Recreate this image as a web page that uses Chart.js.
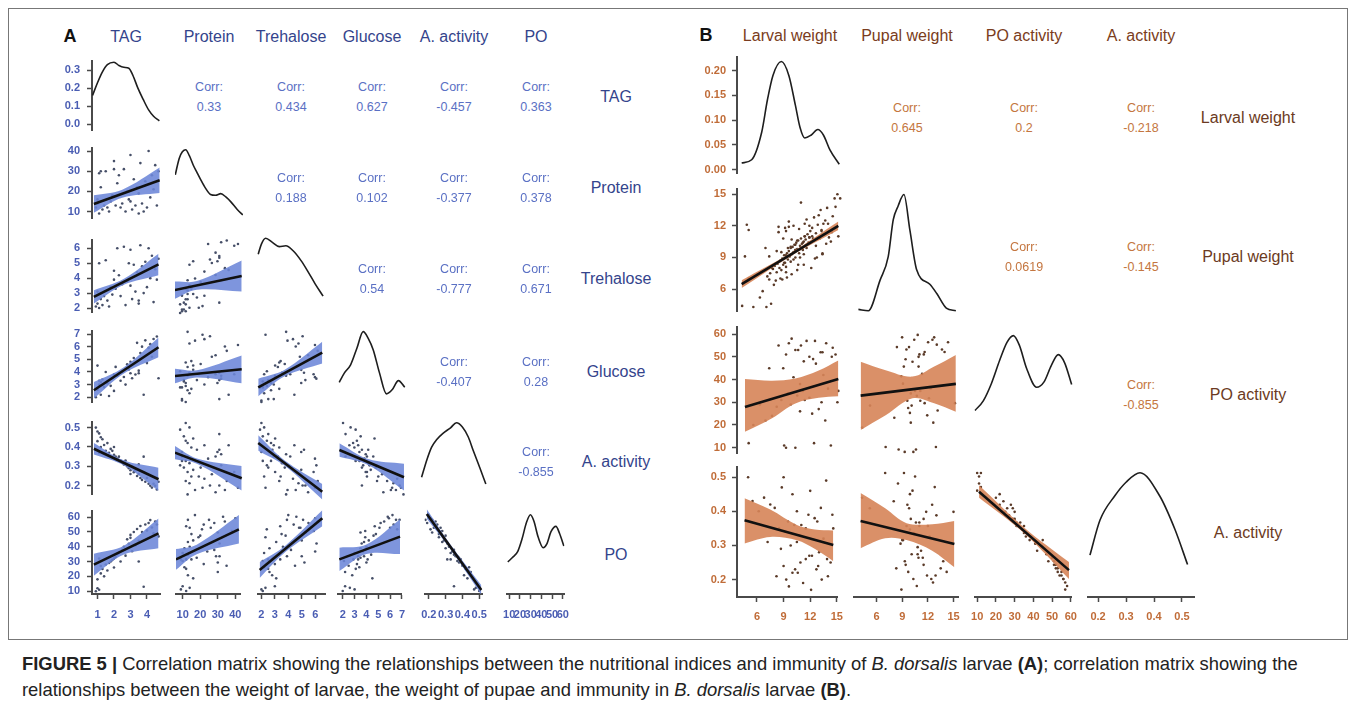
<!DOCTYPE html>
<html>
<head>
<meta charset="utf-8">
<script src="https://cdn.jsdelivr.net/npm/chart.js@4.4.0/dist/chart.umd.min.js"></script>
<style>
body{margin:0;background:#fff;width:1355px;height:710px;position:relative;overflow:hidden;font-family:Arial,"Liberation Sans",sans-serif}
canvas{position:absolute}
.frame{position:absolute;left:8px;top:8px;width:1338px;height:630px;border:1px solid #777}
.t{position:absolute;transform:translate(-50%,-50%);white-space:nowrap}
.caption{position:absolute;left:22px;top:651px;width:1320px;font-size:18.4px;line-height:26px;color:#222;white-space:nowrap}
</style>
</head>
<body>
<div class="frame"></div>
<div class="caption"><b>FIGURE 5 |</b> Correlation matrix showing the relationships between the nutritional indices and immunity of <i>B. dorsalis</i> larvae <b>(A)</b>; correlation matrix showing the<br>relationships between the weight of larvae, the weight of pupae and immunity in <i>B. dorsalis</i> larvae <b>(B)</b>.</div>
<script>
'use strict';

// ---------- panel A : nutritional indices and immunity (one value per larva) ----------
let aNames=['TAG','Protein','Trehalose','Glucose','A. activity','PO']
let aTag=[0.9,1.0,1.1,1.2,1.0,1.3,1.4,1.5,1.6,1.2,1.8,1.7,2.0,1.9,2.1,2.2,2.4,2.3,2.5,2.6,2.7,2.8,2.9,3.0,3.1,3.2,3.0,3.3,3.4,3.5,3.6,3.7,3.5,3.9,4.0,4.1,4.2,4.3,4.4,4.5,4.6,4.7,1.1,2.0,3.8]
let aProtein=[12,14,9,30,16,11,13,30,12,22,15,10,31,18,13,24,12,28,14,31,10,20,16,38,11,26,15,13,22,9,34,14,19,25,12,40,17,28,21,33,13,30,29,35,10]
let aTrehalose=[2.1,2.3,2.0,2.6,3.1,2.2,2.8,5.2,2.5,3.0,3.4,2.1,3.9,2.9,3.3,6.0,2.8,4.2,3.6,6.1,2.2,3.8,5.0,5.9,2.6,4.9,3.5,3.1,4.4,2.5,6.2,4.8,2.3,5.1,3.4,6.0,4.0,5.5,2.4,4.6,3.9,5.3,5.0,4.5,3.0]
let aGlucose=[2.0,2.6,3.0,2.2,4.5,3.4,2.8,4.0,3.1,3.2,2.9,2.1,3.8,3.5,4.4,3.7,3.3,3.9,4.0,3.6,3.0,4.6,4.2,3.9,3.5,5.1,4.8,3.8,6.3,4.1,5.5,6.0,3.9,6.5,4.7,5.9,6.2,5.2,6.6,5.8,6.8,3.5,3.3,2.5,2.2]
let aActivity=[0.50,0.48,0.47,0.45,0.43,0.44,0.41,0.38,0.42,0.40,0.39,0.37,0.36,0.38,0.35,0.34,0.33,0.35,0.32,0.31,0.33,0.30,0.29,0.28,0.30,0.27,0.26,0.28,0.25,0.31,0.24,0.23,0.26,0.22,0.24,0.21,0.20,0.19,0.21,0.20,0.18,0.22,0.37,0.40,0.35]
let aPO=[10,12,11,22,18,25,20,28,24,27,30,29,32,31,33,35,30,36,38,40,34,45,42,48,37,50,46,41,52,30,54,50,44,55,51,56,58,53,49,57,55,47,32,26,13]

// correlations shown in the upper triangle, row by row
let aCorr=[['0.33','0.434','0.627','-0.457','0.363'],['0.188','0.102','-0.377','0.378'],['0.54','-0.777','0.671'],['-0.407','0.28'],['-0.855']]

// axis limits and ticks
let aXLim=[[0.667,4.79],[6.25,42.7],[1.78,6.73],[1.6,7.0],[0.175,0.52],[7.6,61.6]]
let aYLim=[[-0.033,0.352],[6.57,41.7],[1.71,6.58],[1.59,7.27],[0.155,0.531],[8.1,64.4]]
let aXTicks=[[1,2,3,4],[10,20,30,40],[2,3,4,5,6],[2,3,4,5,6,7],[0.2,0.3,0.4,0.5],[10,20,30,40,50,60]]
let aXLabels=[['1','2','3','4'],['10','20','30','40'],['2','3','4','5','6'],['2','3','4','5','6','7'],['0.2','0.3','0.4','0.5'],['10','20','30','40','50','60']]
let aYTicks=[[0,0.1,0.2,0.3],[10,20,30,40],[2,3,4,5,6],[2,3,4,5,6,7],[0.2,0.3,0.4,0.5],[10,20,30,40,50,60]]
let aYLabels=[['0.0','0.1','0.2','0.3'],['10','20','30','40'],['2','3','4','5','6'],['2','3','4','5','6','7'],['0.2','0.3','0.4','0.5'],['10','20','30','40','50','60']]

// density curves on the diagonal (first one in density units, others relative height)
let aDens=[
  [[0.7,0.16],[1.0,0.23],[1.3,0.29],[1.6,0.33],[2.0,0.343],[2.3,0.325],[2.6,0.315],[2.9,0.31],[3.15,0.27],[3.45,0.2],[3.77,0.138],[4.1,0.08],[4.4,0.045],[4.75,0.02]],
  [[6.4,0.6],[8.5,0.8],[10.2,0.88],[12.0,0.906],[14,0.83],[16,0.72],[18,0.63],[19.8,0.55],[22.5,0.44],[25.3,0.36],[28,0.35],[30.8,0.37],[33.5,0.33],[36.2,0.27],[39.5,0.18],[42.6,0.11]],
  [[1.87,0.76],[2.1,0.88],[2.41,0.95],[2.9,0.9],[3.4,0.85],[3.88,0.86],[4.41,0.8],[5.0,0.68],[5.5,0.55],[6.0,0.41],[6.59,0.26]],
  [[1.7,0.31],[2.1,0.42],[2.6,0.52],[3.1,0.72],[3.6,0.92],[4.0,0.84],[4.4,0.7],[4.9,0.42],[5.45,0.17],[5.9,0.22],[6.4,0.33],[6.9,0.25]],
  [[0.183,0.27],[0.21,0.48],[0.234,0.63],[0.26,0.72],[0.29,0.79],[0.33,0.86],[0.36,0.92],[0.39,0.87],[0.42,0.75],[0.445,0.59],[0.479,0.38],[0.509,0.19]],
  [[8.7,0.36],[13,0.41],[18,0.48],[22,0.62],[26,0.8],[29.8,0.89],[33,0.82],[37,0.64],[41.7,0.52],[45,0.56],[49,0.7],[53.6,0.76],[57,0.68],[61,0.54]]
]

// fitted lines and confidence bands [x, low, high] in the lower triangle
let aFits=[
  {r:1,c:0,line:[[0.78,13.7],[4.77,25.5]],band:[[0.78,9.4,18.0],[2.5,16.8,20.8],[4.77,19.2,31.8]]},
  {r:2,c:0,line:[[0.78,2.75],[4.7,4.92]],band:[[0.78,2.31,3.19],[2.6,3.56,3.96],[4.7,4.2,5.64]]},
  {r:2,c:1,line:[[6.2,3.33],[42,4.14]],band:[[6.2,2.83,3.83],[18,3.35,3.85],[42,3.24,5.04]]},
  {r:3,c:0,line:[[0.78,2.55],[4.7,5.95]],band:[[0.78,1.9,3.2],[2.6,3.88,4.38],[4.7,5.17,6.73]]},
  {r:3,c:1,line:[[6.2,3.78],[42,4.24]],band:[[6.2,3.28,4.28],[18,3.68,4.18],[42,3.29,5.19]]},
  {r:3,c:2,line:[[1.87,3.0],[6.53,5.38]],band:[[1.87,2.4,3.6],[3.8,3.77,4.21],[6.53,4.64,6.12]]},
  {r:4,c:0,line:[[0.78,0.391],[4.7,0.233]],band:[[0.78,0.361,0.421],[2.6,0.305,0.331],[4.7,0.173,0.293]]},
  {r:4,c:1,line:[[6.2,0.367],[42,0.252]],band:[[6.2,0.337,0.397],[18,0.317,0.341],[42,0.197,0.307]]},
  {r:4,c:2,line:[[1.87,0.41],[6.53,0.192]],band:[[1.87,0.375,0.445],[3.8,0.308,0.332],[6.53,0.157,0.227]]},
  {r:4,c:3,line:[[1.71,0.379],[6.84,0.257]],band:[[1.71,0.349,0.409],[4,0.312,0.338],[6.84,0.197,0.317]]},
  {r:5,c:0,line:[[0.78,27.9],[4.7,49]],band:[[0.78,20.5,35.3],[2.6,34.7,40.7],[4.7,39,59]]},
  {r:5,c:1,line:[[6.2,30],[42,49]],band:[[6.2,23.5,36.5],[18,33.3,39.3],[42,40,58]]},
  {r:5,c:2,line:[[1.87,23.3],[6.53,56]],band:[[1.87,18.3,28.3],[3.8,34.8,38.8],[6.53,51,61]]},
  {r:5,c:3,line:[[1.71,30],[6.84,44.4]],band:[[1.71,22.6,37.4],[4,33.4,39.4],[6.84,33.4,55.4]]},
  {r:5,c:4,line:[[0.188,58.7],[0.513,10.6]],band:[[0.188,55.7,61.7],[0.33,36.2,39.2],[0.513,7.6,13.6]]}
]

// ---------- panel B : weights and immunity ----------
let bNames=['Larval weight','Pupal weight','PO activity','A. activity']
let bLarval=[5.0,13.8,9.0,8.8,12.0,10.0,5.5,7.5,13.2,10.5,8.0,14.5,9.5,11.0,11.5,12.5,10.2,9.2,12.8,6.2,10.8,13.5,8.5,11.8,10.5,9.8,13.0,8.7,12.2,10.9,11.5,9.0,12.7,10.0,14.0,8.2,13.3,11.2,9.6,12.9,10.6,13.9,7.2,12.1,14.3,9.3,11.9,10.3,6.8,14.6]
let bPupal=[7.0,10.5,9.2,8.5,12.8,10.2,4.3,8.0,12.5,9.8,9.6,15.0,10.0,11.0,12.0,13.0,10.6,9.9,11.5,5.2,10.4,12.2,9.5,11.8,9.0,8.8,11.2,10.8,10.1,9.3,10.9,11.5,13.5,9.7,12.9,11.9,10.3,12.6,10.7,9.4,14.2,11.4,9.1,8.9,13.8,12.4,10.8,8.3,9.9,11.0]
let bPO=[12,11,10,11,12,10,20,24,22,26,28,30,29,31,32,27,33,34,30,29,35,36,31,25,38,41,42,45,47,48,50,51,52,53,54,55,56,57,58,52,55,50,45,57,51,56,49,53,22,35]
let bActivity=[0.50,0.49,0.50,0.47,0.46,0.45,0.43,0.42,0.41,0.40,0.41,0.39,0.37,0.36,0.35,0.38,0.36,0.34,0.37,0.40,0.33,0.32,0.35,0.39,0.31,0.30,0.28,0.29,0.27,0.25,0.26,0.24,0.23,0.22,0.21,0.21,0.20,0.19,0.18,0.24,0.22,0.26,0.31,0.17,0.25,0.20,0.27,0.23,0.44,0.35]
// larvae weighed as larva and pupa only (no immunity assay)
let bLarvalMore=[4.3,4.8,5.0,4.6,6.9,7.4,7.0,7.3,7.6,7.8,8.0,8.1,8.3,8.4,8.5,8.6,8.7,8.8,8.9,9.0,9.0,9.1,9.2,9.3,9.4,9.5,9.5,9.6,9.7,9.8,9.9,10.0,10.0,10.1,10.2,10.3,10.4,10.5,10.6,10.7,10.8,10.9,11.0,11.1,11.2,11.3,11.4,11.5,11.6,11.8,12.0,12.2,12.4,12.6,12.8,13.0,13.4,14.2,14.8,8.2,8.9,9.3,9.8,10.4,11.0,7.9,8.6,9.1,9.6,10.2,10.9,11.7,12.3,7.7,8.4,9.0,12.9,13.6,7.2,6.5]
let bPupalMore=[4.4,12.1,11.6,9.1,4.3,4.6,7.2,7.5,7.9,8.2,7.6,8.4,8.0,8.7,7.8,8.9,8.3,9.2,8.5,9.0,8.1,9.4,8.8,9.6,9.1,8.6,9.9,9.3,10.0,9.5,10.2,9.0,9.7,10.4,9.8,10.6,9.4,10.1,10.8,10.3,9.7,10.5,11.0,10.7,9.9,11.2,10.4,10.9,11.5,11.0,10.6,11.3,12.1,10.8,11.6,12.2,13.7,14.6,14.6,11.4,11.8,11.9,12.0,11.7,12.2,6.8,6.9,7.1,7.4,7.8,8.3,8.0,9.0,6.4,7.0,7.6,9.3,10.9,6.9,5.8]

let bCorr=[['0.645','0.2','-0.218'],['0.0619','-0.145'],['-0.855']]

let bXLim=[[3.75,15.1],[3.35,15.58],[9.03,60.5],[0.164,0.543]]
let bYLim=[[-0.0075,0.228],[3.88,15.53],[7.5,63.3],[0.149,0.531]]
let bXTicks=[[6,9,12,15],[6,9,12,15],[10,20,30,40,50,60],[0.2,0.3,0.4,0.5]]
let bXLabels=[['6','9','12','15'],['6','9','12','15'],['10','20','30','40','50','60'],['0.2','0.3','0.4','0.5']]
let bYTicks=[[0,0.05,0.1,0.15,0.2],[6,9,12,15],[10,20,30,40,50,60],[0.2,0.3,0.4,0.5]]
let bYLabels=[['0.00','0.05','0.10','0.15','0.20'],['6','9','12','15'],['10','20','30','40','50','60'],['0.2','0.3','0.4','0.5']]

let bDens=[
  [[4.25,0.0136],[5.32,0.02],[6.4,0.076],[7.0,0.14],[7.6,0.19],[8.5,0.218],[9.3,0.19],[10.0,0.13],[10.5,0.085],[11.0,0.064],[11.7,0.07],[12.4,0.081],[13.0,0.07],[13.7,0.04],[14.7,0.011]],
  [[3.86,0.05],[5.0,0.04],[6.35,0.27],[7.3,0.45],[7.88,0.73],[8.42,0.83],[9.11,0.92],[9.8,0.65],[10.58,0.35],[12.1,0.24],[12.9,0.17],[14.0,0.06],[15.1,0.04]],
  [[11,0.35],[15,0.42],[19,0.55],[23,0.72],[26.5,0.85],[29.6,0.9],[32.5,0.83],[36,0.66],[40.9,0.52],[44.5,0.56],[48,0.68],[51.4,0.76],[54.5,0.7],[57.9,0.54]],
  [[0.171,0.31],[0.207,0.57],[0.26,0.75],[0.3,0.85],[0.35,0.92],[0.42,0.75],[0.475,0.5],[0.52,0.24]]
]

let bFits=[
  {r:1,c:0,line:[[4.25,6.47],[14.6,12.0]],band:[[4.25,6.1,6.84],[9.5,9.12,9.42],[14.6,11.6,12.4]]},
  {r:2,c:0,line:[[4.6,27.9],[14.6,40.2]],band:[[4.6,17,40.2],[7.5,23,39.5],[10,29.5,40.5],[12.5,32,44],[14.6,32.7,48.4]]},
  {r:2,c:1,line:[[4.12,33.1],[15.1,37.9]],band:[[4.12,19,47],[7,25,43.5],[10.1,32,40.9],[12.6,30,45],[15.1,26.5,49.8]]},
  {r:3,c:0,line:[[4.6,0.374],[14.6,0.301]],band:[[4.6,0.306,0.438],[7.5,0.325,0.405],[10.5,0.315,0.36],[12.5,0.29,0.347],[14.6,0.254,0.344]]},
  {r:3,c:1,line:[[4.12,0.364],[15.1,0.299]],band:[[4.12,0.287,0.443],[7,0.315,0.4],[9.5,0.31,0.358],[12.5,0.28,0.355],[15.1,0.233,0.364]]},
  {r:3,c:2,line:[[11,0.447],[59,0.225]],band:[[11,0.43,0.465],[35,0.33,0.346],[59,0.2,0.248]]}
]

// ---------- layout ----------
let panelA={
  vars:[aTag,aProtein,aTrehalose,aGlucose,aActivity,aPO], names:aNames, corr:aCorr,
  xLim:aXLim, yLim:aYLim, xTicks:aXTicks, xLabels:aXLabels, yTicks:aYTicks, yLabels:aYLabels,
  dens:aDens, fits:aFits, more:null,
  colL:[92,175,257,338,420,502], colW:68,
  rowT:[55,142,234,325,416,505], rowB:[136,224,318,408,500,594],
  axL:40, axB:30, yPad:7, xPad:9, labelX:616, labelY:[97,188,279,372,462,555], headY:37,
  letter:'A', letterX:70, headSize:16, labelSize:16,
  pal:{head:'#34448c', label:'#34448c', tick:'#4a5db3', corr:'#5a70c4', band:'rgba(108,134,216,0.88)', pt:'#464f68', axis:'#4a4a4a'}
}
let panelB={
  vars:[bLarval,bPupal,bPO,bActivity], names:bNames, corr:bCorr,
  xLim:bXLim, yLim:bYLim, xTicks:bXTicks, xLabels:bXLabels, yTicks:bYTicks, yLabels:bYLabels,
  dens:bDens, fits:bFits, more:{r:1,c:0,x:bLarvalMore,y:bPupalMore},
  colL:[737,854,971,1088], colW:106,
  rowT:[52,184,322,462], rowB:[178,316,458,597],
  axL:45, axB:30, yPad:6, xPad:8, labelX:1248, labelY:[118,257,395,533], headY:36,
  letter:'B', letterX:706, headSize:16, labelSize:16,
  pal:{head:'#7a3c20', label:'#6b3a22', tick:'#c06c38', corr:'#c47640', band:'rgba(214,132,88,0.9)', pt:'#5a3a28', axis:'#4a4a4a'}
}

function addText(txt,x,y,size,color,weight)
{
    let d=document.createElement('div')
    d.className='t'
    d.textContent=txt
    d.style.left=x+'px'
    d.style.top=y+'px'
    d.style.fontSize=size+'px'
    d.style.color=color
    if(weight) d.style.fontWeight=weight
    document.body.appendChild(d)
}

function axis(pos,show,lim,tv,tl,pal,size,pad)
{
    return {
        type:'linear', position:pos, display:show, min:lim[0], max:lim[1],
        afterBuildTicks:function(s){ s.ticks=tv.map(function(v){ return {value:v} }) },
        afterFit:function(s){ if(!show) return; if(pos==='left') s.width=size; else s.height=size },
        ticks:{color:pal.tick, font:{family:'Arial', size:11, weight:'bold'}, padding:pad, autoSkip:false, maxRotation:0, minRotation:0,
            callback:function(v,i){ return tl[i] }},
        grid:{display:true, drawOnChartArea:false, drawTicks:true, tickLength:5, tickWidth:1.5, tickColor:pal.axis},
        border:{display:true, color:pal.axis, width:2}
    }
}

function pairs(xs,ys)
{
    let out=[]
    for(let i=0;i<xs.length;i++)
    {
        if(xs[i]!=null && ys[i]!=null) out.push({x:xs[i],y:ys[i]})
    }
    return out
}

function cell(p,r,c,datasets,yLim)
{
    let n=p.vars.length
    let isL=c===0, isB=r===n-1
    let pad=8
    let w=p.colW, h=p.rowB[r]-p.rowT[r]
    let axL=isL?p.axL:0, axB=isB?p.axB:0
    let W=w+2*pad+axL, H=h+2*pad+axB
    let cv=document.createElement('canvas')
    cv.width=W
    cv.height=H
    cv.style.left=(p.colL[c]-pad-axL)+'px'
    cv.style.top=(p.rowT[r]-pad)+'px'
    cv.style.width=W+'px'
    cv.style.height=H+'px'
    document.body.appendChild(cv)
    new Chart(cv.getContext('2d'),{
        type:'scatter',
        data:{datasets:datasets},
        options:{
            responsive:false, animation:false, events:[],
            layout:{autoPadding:false, padding:{left:pad,right:pad,top:pad,bottom:pad}},
            plugins:{legend:{display:false}, tooltip:{enabled:false}},
            scales:{
                x:axis('bottom',isB,p.xLim[c],p.xTicks[c],p.xLabels[c],p.pal,p.axB,p.xPad),
                y:axis('left',isL,yLim,p.yTicks[r],p.yLabels[r],p.pal,p.axL,p.yPad)
            }
        }
    })
}

function buildPanel(p)
{
    let n=p.vars.length
    addText(p.letter,p.letterX,p.headY-1,18,'#111','bold')
    for(let c=0;c<n;c++)
    {
        addText(p.names[c],p.colL[c]+p.colW/2,p.headY,p.headSize,p.pal.head)
    }
    for(let r=0;r<n;r++)
    {
        addText(p.names[r],p.labelX,p.labelY[r],p.labelSize,p.pal.label)
        for(let c=0;c<n;c++)
        {
            if(c>r)
            {
                let cx=p.colL[c]+p.colW/2
                addText('Corr:',cx,p.labelY[r]-10,12.5,p.pal.corr)
                addText(p.corr[r][c-r-1],cx,p.labelY[r]+10,12.5,p.pal.corr)
            }
            else if(c===r)
            {
                let d=p.dens[r].map(function(q){ return {x:q[0],y:q[1]} })
                let yl=r===0?p.yLim[0]:[0,1]
                cell(p,r,c,[{type:'line',data:d,borderColor:'#1e1e1e',borderWidth:1.6,pointRadius:0,cubicInterpolationMode:'monotone'}],yl)
            }
            else
            {
                let f=p.fits.filter(function(q){ return q.r===r && q.c===c })[0]
                let pts=pairs(p.vars[c],p.vars[r])
                if(p.more && p.more.r===r && p.more.c===c) pts=pts.concat(pairs(p.more.x,p.more.y))
                let lo=f.band.map(function(q){ return {x:q[0],y:q[1]} })
                let hi=f.band.map(function(q){ return {x:q[0],y:q[2]} })
                let ln=f.line.map(function(q){ return {x:q[0],y:q[1]} })
                cell(p,r,c,[
                    {type:'line',data:ln,borderColor:'#111',borderWidth:2.6,pointRadius:0,order:1},
                    {type:'line',data:hi,borderWidth:0,pointRadius:0,fill:'+1',backgroundColor:p.pal.band,tension:0.35,order:2},
                    {type:'line',data:lo,borderWidth:0,pointRadius:0,fill:false,tension:0.35,order:2},
                    {type:'scatter',data:pts,pointRadius:1.3,pointBorderWidth:0,pointBackgroundColor:p.pal.pt,order:3}
                ],p.yLim[r])
            }
        }
    }
}

buildPanel(panelA)
buildPanel(panelB)
</script>
</body>
</html>
